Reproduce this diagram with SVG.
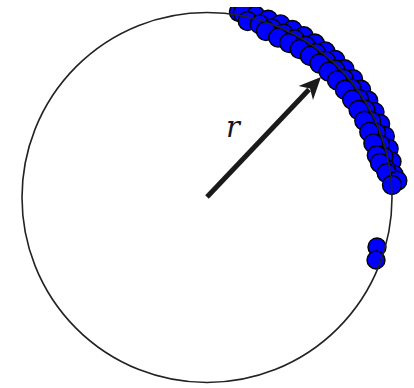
<svg xmlns="http://www.w3.org/2000/svg" width="414" height="388" viewBox="0 0 414 388">
<style>
.d{fill:#0000ff;stroke:#000;stroke-width:1.4}
.c{fill:none;stroke:#222;stroke-width:1.6}
.lbl{font-family:"DejaVu Serif","Liberation Serif",serif;font-style:italic;font-size:29px;fill:#15152a}
</style>
<defs>
<clipPath id="clip"><rect x="0" y="7" width="414" height="381"/></clipPath>
</defs>
<rect width="414" height="388" fill="#fff"/>
<g id="points" clip-path="url(#clip)">
<circle class="d" cx="239" cy="12" r="9.5"/>
<circle class="d" cx="242.9" cy="13" r="9.5"/>
<circle class="d" cx="255.7" cy="15.9" r="9.5"/>
<circle class="d" cx="268.2" cy="19.7" r="9.5"/>
<circle class="d" cx="280.5" cy="24.4" r="9.5"/>
<circle class="d" cx="292.4" cy="30" r="9.5"/>
<circle class="d" cx="303.8" cy="36.3" r="9.5"/>
<circle class="d" cx="314.8" cy="43.5" r="9.5"/>
<circle class="d" cx="325.3" cy="51.4" r="9.5"/>
<circle class="d" cx="335.2" cy="60" r="9.5"/>
<circle class="d" cx="344.5" cy="69.3" r="9.5"/>
<circle class="d" cx="353.1" cy="79.2" r="9.5"/>
<circle class="d" cx="361" cy="89.7" r="9.5"/>
<circle class="d" cx="368.2" cy="100.7" r="9.5"/>
<circle class="d" cx="374.5" cy="112.1" r="9.5"/>
<circle class="d" cx="380.1" cy="124" r="9.5"/>
<circle class="d" cx="384.8" cy="136.3" r="9.5"/>
<circle class="d" cx="388.6" cy="148.8" r="9.5"/>
<circle class="d" cx="391.5" cy="161.6" r="9.5"/>
<circle class="d" cx="393.6" cy="174.6" r="9.5"/>
<circle class="d" cx="247.7" cy="21.1" r="9.5"/>
<circle class="d" cx="259.9" cy="24.4" r="9.5"/>
<circle class="d" cx="271.9" cy="28.5" r="9.5"/>
<circle class="d" cx="283.5" cy="33.5" r="9.5"/>
<circle class="d" cx="294.7" cy="39.2" r="9.5"/>
<circle class="d" cx="305.6" cy="45.7" r="9.5"/>
<circle class="d" cx="315.9" cy="53" r="9.5"/>
<circle class="d" cx="325.8" cy="60.9" r="9.5"/>
<circle class="d" cx="335" cy="69.5" r="9.5"/>
<circle class="d" cx="343.6" cy="78.7" r="9.5"/>
<circle class="d" cx="351.5" cy="88.6" r="9.5"/>
<circle class="d" cx="358.8" cy="98.9" r="9.5"/>
<circle class="d" cx="365.3" cy="109.8" r="9.5"/>
<circle class="d" cx="371" cy="121" r="9.5"/>
<circle class="d" cx="376" cy="132.6" r="9.5"/>
<circle class="d" cx="380.1" cy="144.6" r="9.5"/>
<circle class="d" cx="383.4" cy="156.8" r="9.5"/>
<circle class="d" cx="385.8" cy="169.2" r="9.5"/>
<circle class="d" cx="266" cy="31" r="9.5"/>
<circle class="d" cx="278.2" cy="37.6" r="9.5"/>
<circle class="d" cx="289.2" cy="43" r="9.5"/>
<circle class="d" cx="299.7" cy="49.1" r="9.5"/>
<circle class="d" cx="309.9" cy="55.9" r="9.5"/>
<circle class="d" cx="319.5" cy="63.5" r="9.5"/>
<circle class="d" cx="328.6" cy="71.6" r="9.5"/>
<circle class="d" cx="337" cy="80.4" r="9.5"/>
<circle class="d" cx="344.9" cy="89.8" r="9.5"/>
<circle class="d" cx="352.1" cy="99.6" r="9.5"/>
<circle class="d" cx="358.6" cy="110" r="9.5"/>
<circle class="d" cx="364.3" cy="120.8" r="9.5"/>
<circle class="d" cx="369.3" cy="131.9" r="9.5"/>
<circle class="d" cx="373.4" cy="143.4" r="9.5"/>
<circle class="d" cx="376.8" cy="155.2" r="9.5"/>
<circle class="d" cx="380" cy="163" r="9.5"/>
<circle class="d" cx="386.7" cy="173" r="9.5"/>
<circle class="d" cx="397.3" cy="180.8" r="9.5"/>
<circle class="d" cx="392" cy="185" r="9.5"/>
<circle class="d" cx="377" cy="247" r="9"/>
<circle class="d" cx="376" cy="260" r="9"/>
</g>
<g id="circle">
<circle class="c" cx="207" cy="197.5" r="185"/>
</g>
<g id="connectors">
<line x1="207" y1="197" x2="309" y2="89.5" stroke="#1a1a1a" stroke-width="5"/>
<polygon points="321,77 313,100 310,88.6 298.6,86.1" fill="#1a1a1a"/>
</g>
<g id="label">
<text class="lbl" x="233" y="137" text-anchor="middle">r</text>
</g>
</svg>
